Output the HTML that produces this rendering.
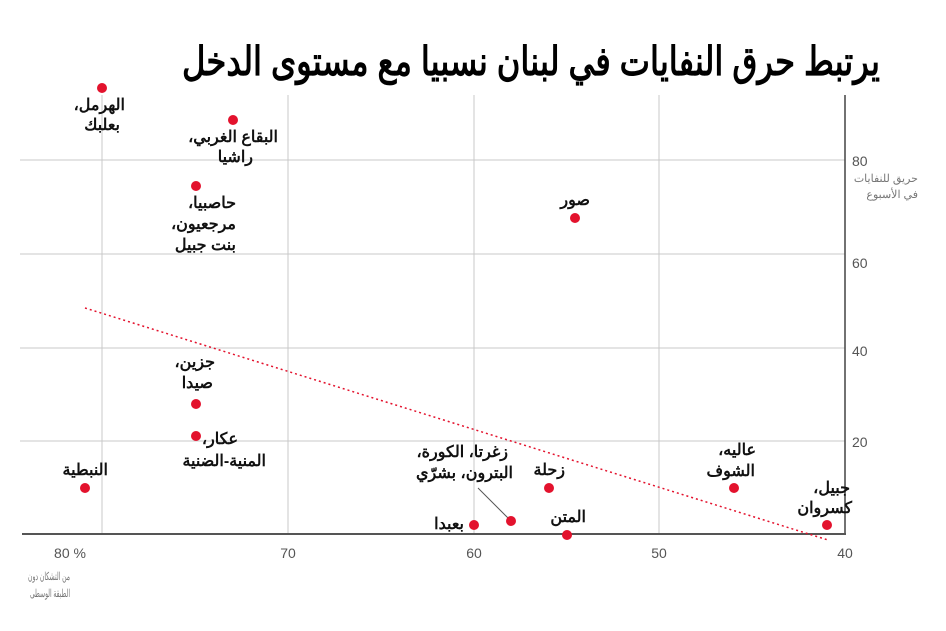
<!DOCTYPE html>
<html><head><meta charset="utf-8"><style>
html,body{margin:0;padding:0;background:#fff;}
svg{display:block;}
.l{font-family:"Liberation Sans","Noto Sans CJK SC",sans-serif;font-weight:bold;font-size:16px;fill:#111;}
.t{font-family:"Liberation Sans",sans-serif;font-size:14px;fill:#555;}
.s{font-family:"Liberation Sans","Noto Sans CJK SC",sans-serif;font-size:11px;fill:#777;}
</style></head><body>
<svg width="946" height="631" viewBox="0 0 946 631">
<text x="880" y="75" text-anchor="start" direction="rtl" textLength="698" lengthAdjust="spacingAndGlyphs" style="font-family:'Liberation Sans','Noto Sans CJK SC',sans-serif;font-weight:bold;font-size:40px;fill:#000">يرتبط حرق النفايات في لبنان نسبيا مع مستوى الدخل</text>
<g stroke="#c8c8c8" stroke-width="1">
<line x1="102" y1="95" x2="102" y2="534"/><line x1="288" y1="95" x2="288" y2="534"/>
<line x1="474" y1="95" x2="474" y2="534"/><line x1="659" y1="95" x2="659" y2="534"/>
<line x1="20" y1="160" x2="845" y2="160"/><line x1="20" y1="254" x2="845" y2="254"/>
<line x1="20" y1="348" x2="845" y2="348"/><line x1="20" y1="441" x2="845" y2="441"/>
</g>
<line x1="845" y1="95" x2="845" y2="535" stroke="#444" stroke-width="1.5"/>
<line x1="22" y1="534" x2="846" y2="534" stroke="#555" stroke-width="2"/>
<line x1="85" y1="308" x2="828" y2="540" stroke="#e3122d" stroke-width="1.5" stroke-dasharray="2,3"/>
<g class="t">
<text x="852" y="166">80</text><text x="852" y="268">60</text><text x="852" y="356">40</text><text x="852" y="447">20</text>
<text x="70" y="558" text-anchor="middle">80 %</text><text x="288" y="558" text-anchor="middle">70</text>
<text x="474" y="558" text-anchor="middle">60</text><text x="659" y="558" text-anchor="middle">50</text>
<text x="845" y="558" text-anchor="middle">40</text>
</g>
<g class="s" direction="rtl">
<text x="918" y="182">حريق للنفايات</text><text x="918" y="198">في الأسبوع</text>
<text x="70" y="580" textLength="42" lengthAdjust="spacingAndGlyphs">من التشكان دون</text><text x="70" y="597" textLength="40" lengthAdjust="spacingAndGlyphs">الطبقة الوسطى</text>
</g>
<line x1="478" y1="488" x2="511" y2="521" stroke="#555" stroke-width="1"/>
<g fill="#e3122d">
<circle cx="102" cy="88" r="5"/><circle cx="233" cy="120" r="5"/><circle cx="196" cy="186" r="5"/>
<circle cx="575" cy="218" r="5"/><circle cx="196" cy="404" r="5"/><circle cx="196" cy="436" r="5"/>
<circle cx="85" cy="488" r="5"/><circle cx="549" cy="488" r="5"/><circle cx="734" cy="488" r="5"/>
<circle cx="827" cy="525" r="5"/><circle cx="474" cy="525" r="5"/><circle cx="511" cy="521" r="5"/>
<circle cx="567" cy="535" r="5"/>
</g>
<g class="l" direction="rtl">
<text x="125" y="110">الهرمل،</text><text x="120" y="130">بعلبك</text>
<text x="278" y="142">البقاع الغربي،</text><text x="253" y="162">راشيا</text>
<text x="236" y="208">حاصبيا،</text><text x="236" y="229">مرجعيون،</text><text x="236" y="250">بنت جبيل</text>
<text x="590" y="205">صور</text>
<text x="215" y="367">جزين،</text><text x="213" y="388">صيدا</text>
<text x="238" y="444">عكار،</text><text x="266" y="466">المنية-الضنية</text>
<text x="108" y="475">النبطية</text>
<text x="565" y="475">زحلة</text>
<text x="756" y="455">عاليه،</text><text x="755" y="476">الشوف</text>
<text x="850" y="493">جبيل،</text><text x="852" y="513">كسروان</text>
<text x="508" y="457">زغرتا، الكورة،</text><text x="513" y="478">البترون، بشرّي</text>
<text x="464" y="529">بعبدا</text>
<text x="586" y="522">المتن</text>
</g>
</svg>
</body></html>
